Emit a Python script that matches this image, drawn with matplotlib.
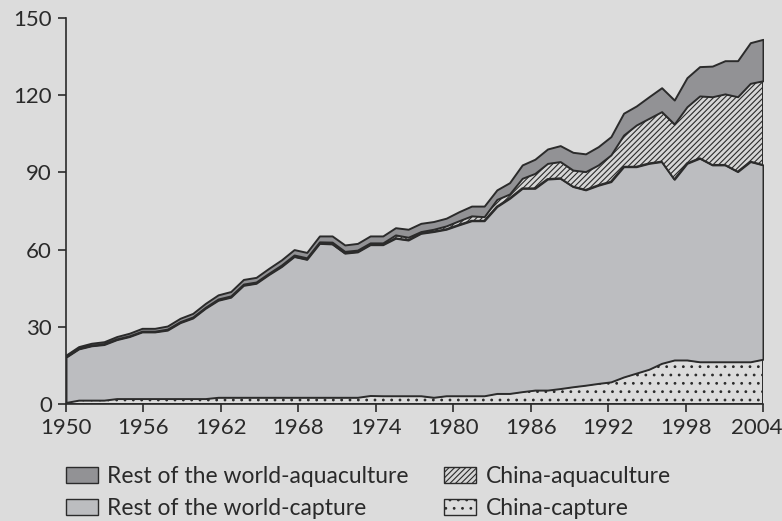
import numpy as np
import matplotlib
matplotlib.use("Agg")
import matplotlib.pyplot as plt
import matplotlib.transforms as mtransforms
from matplotlib.patches import Patch

# data (million tonnes), 56 annual points
years = np.arange(1950, 2006)

china_capture = [0.6, 1.5, 1.5, 1.5, 2.1, 2.1, 2.1, 2.1, 2.1, 2.1,
                 2.1, 2.1, 2.6, 2.6, 2.6, 2.6, 2.6, 2.6, 2.6, 2.6,
                 2.6, 2.6, 2.6, 2.6, 3.3, 3.2, 3.2, 3.2, 3.2, 2.6,
                 3.2, 3.2, 3.2, 3.2, 4.1, 4.1, 4.8, 5.4, 5.4, 6.0,
                 6.7, 7.3, 8.0, 8.6, 10.5, 12.0, 13.5, 15.8, 17.1, 17.1,
                 16.4, 16.4, 16.4, 16.4, 16.4, 17.4]

row_capture = [17.6, 19.9, 21.1, 21.6, 22.9, 24.1, 25.9, 25.9, 26.6, 29.5,
               31.3, 35.1, 37.7, 38.9, 43.5, 44.3, 47.7, 50.8, 54.7, 53.6,
               59.8, 59.6, 56.0, 56.5, 58.6, 58.7, 61.2, 60.5, 63.1, 64.4,
               64.7, 66.4, 68.0, 68.0, 72.6, 75.8, 79.0, 78.4, 82.0, 81.7,
               77.8, 75.9, 77.0, 77.8, 81.7, 80.2, 80.0, 78.4, 70.2, 76.4,
               79.1, 76.5, 76.5, 73.9, 77.8, 75.5]

china_aquaculture = [0.2, 0.2, 0.2, 0.3, 0.3, 0.3, 0.3, 0.3, 0.4, 0.4,
                     0.4, 0.4, 0.5, 0.5, 0.5, 0.5, 0.5, 0.6, 0.6, 0.6,
                     0.6, 0.7, 0.7, 0.7, 0.7, 0.7, 1.3, 1.1, 0.7, 0.9,
                     1.3, 1.6, 1.9, 1.6, 2.8, 1.7, 3.9, 5.8, 6.1, 6.5,
                     6.4, 7.1, 7.9, 10.4, 12.3, 16.2, 17.5, 19.4, 21.5, 22.0,
                     24.2, 26.5, 27.6, 29.1, 30.4, 32.7]

row_aquaculture = [0.6, 0.7, 0.8, 0.8, 0.9, 1.0, 1.1, 1.1, 1.2, 1.3,
                   1.4, 1.5, 1.6, 1.7, 1.8, 1.8, 1.9, 2.0, 2.1, 2.1,
                   2.3, 2.4, 2.5, 2.6, 2.7, 2.7, 2.8, 3.1, 3.2, 3.0,
                   3.0, 3.5, 3.8, 4.1, 3.7, 4.4, 5.2, 5.5, 5.6, 6.2,
                   6.9, 6.9, 7.1, 7.1, 8.5, 7.4, 8.4, 9.3, 9.3, 11.3,
                   11.4, 11.9, 12.9, 14.0, 15.8, 16.1]

tick_labels = ["1950", "1956", "1962", "1968", "1974",
               "1980", "1986", "1992", "1998", "2004"]

bg = "#dcdcdc"
edge = "#2b2b2b"
plt.rcParams["font.family"] = ["Lato", "DejaVu Sans"]
plt.rcParams["hatch.color"] = edge
plt.rcParams["hatch.linewidth"] = 0.8

fig = plt.figure(figsize=(7.82, 5.21), dpi=100, facecolor=bg)
ax = fig.add_axes([0.0844, 0.2246, 0.8913, 0.7409], facecolor=bg)

layers = ax.stackplot(years, china_capture, row_capture, china_aquaculture,
                      row_aquaculture,
                      colors=[bg, "#bcbdc0", "#d6d6d6", "#929295"],
                      edgecolor=edge, linewidth=1.4)
layers[0].set_hatch("..")
layers[2].set_hatch("//////")

ax.set_xlim(years[0], years[-1])
ax.set_ylim(0, 150)
ax.set_yticks(range(0, 151, 30))
ax.set_xticks(np.linspace(years[0], years[-1], len(tick_labels)))
ax.set_xticklabels(tick_labels)

for side in ("top", "right"):
    ax.spines[side].set_visible(False)
for side in ("left", "bottom"):
    ax.spines[side].set_color(edge)
    ax.spines[side].set_linewidth(1.2)
ax.tick_params(length=6, width=1.2, color=edge, labelsize=16,
               labelcolor="#2a2a2a", pad=4)
# last year label sits against the right edge of the figure
last = ax.get_xticklabels()[-1]
last.set_transform(last.get_transform() +
                   mtransforms.ScaledTranslation(-6 / 100, 0, fig.dpi_scale_trans))

handles = [Patch(facecolor="#929295", edgecolor=edge, label="Rest of the world-aquaculture"),
           Patch(facecolor="#bcbdc0", edgecolor=edge, label="Rest of the world-capture"),
           Patch(facecolor="#d6d6d6", edgecolor=edge, hatch="//////", label="China-aquaculture"),
           Patch(facecolor=bg, edgecolor=edge, hatch="..", label="China-capture")]
fig.legend(handles=handles, ncol=2, loc="lower left", bbox_to_anchor=(0.058, -0.036),
           frameon=False, fontsize=16.5, handlelength=1.4, handleheight=0.7,
           handletextpad=0.4, columnspacing=1.55, labelspacing=0.5,
           labelcolor="#2a2a2a")

fig.savefig("out.png", dpi=100, facecolor=bg)
